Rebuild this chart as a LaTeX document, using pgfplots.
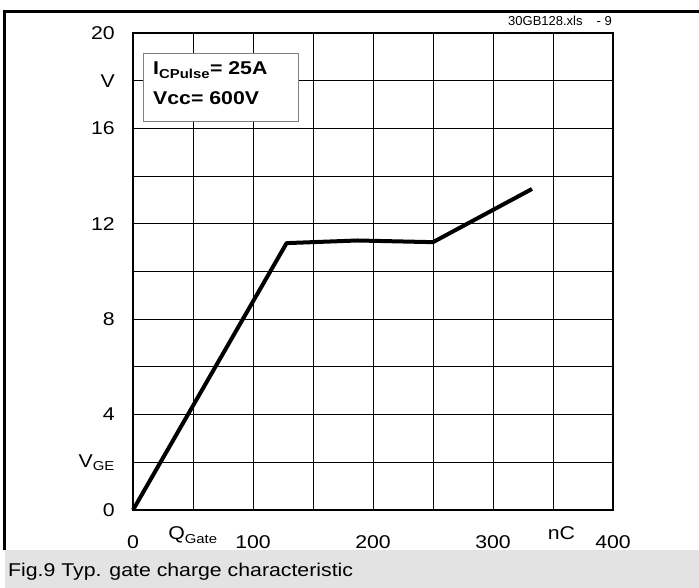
\documentclass[border=0pt]{standalone}
\usepackage{pgfplots}
\pgfplotsset{compat=1.18}
\usepackage{fontspec}
\setmainfont{Liberation Sans}[FakeStretch=1.15]
\newfontfamily\plainfont{Liberation Sans}
\begin{document}
\begin{tikzpicture}
\useasboundingbox (-133pt,-78pt) rectangle (566pt,510pt);
% frame and caption bar
\fill[gray!22] (-128pt,-78pt) rectangle (566pt,-40pt);
\draw[line width=3pt] (-128pt,-40pt) -- (-128pt,498pt) -- (566pt,498pt);
\node[anchor=base west, inner sep=0pt, font=\fontsize{18.5}{21}\selectfont] at (-125pt,-67pt) {Fig.9 Typ. gate charge characteristic};
\node[anchor=base east, inner sep=0pt, font=\plainfont\fontsize{13}{15}\selectfont] at (479pt,484pt) {30GB128.xls\hspace{14pt}- 9};

\begin{axis}[
  at={(0pt,0pt)}, anchor=south west,
  scale only axis, width=480pt, height=477pt,
  xmin=0, xmax=400, ymin=0, ymax=20,
  xtick={0,50,...,400},
  xticklabels={0,,100,,200,,300,,400},
  ytick={0,2,...,20},
  yticklabels={0,\raisebox{-9pt}{V\textsubscript{GE}},4,,8,,12,,16,V,20},
  grid=major,
  major grid style={black, line width=0.8pt},
  axis line style={line width=1.8pt},
  major tick length=0pt,
  /pgf/number format/assume math mode=true,
  tick label style={font=\fontsize{18.5}{21}\selectfont, inner sep=0pt},
  xticklabel style={anchor=base, yshift=-39pt},
  yticklabel style={anchor=east, xshift=-18pt},
  clip=false,
]
\addplot[black, line width=4pt, line join=round] coordinates {
  (0,0) (128,11.19) (187,11.3) (250,11.23) (332.5,13.46)
};
\node[anchor=base, inner sep=0pt, font=\fontsize{18.5}{21}\selectfont] at ([yshift=-30pt]axis cs:50,0) {Q\textsubscript{Gate}};
\node[anchor=base, inner sep=0pt, font=\fontsize{18.5}{21}\selectfont] at ([yshift=-30pt]axis cs:357,0) {nC};
\end{axis}

% inset box
\draw[gray, fill=white, line width=0.8pt] (10pt,389pt) rectangle (165pt,457pt);
\node[anchor=base west, inner sep=0pt, font=\bfseries\fontsize{18.5}{21}\selectfont] at (20pt,435pt) {I\textsubscript{CPulse}= 25A};
\node[anchor=base west, inner sep=0pt, font=\bfseries\fontsize{18.5}{21}\selectfont] at (20pt,405pt) {Vcc= 600V};
\end{tikzpicture}
\end{document}
